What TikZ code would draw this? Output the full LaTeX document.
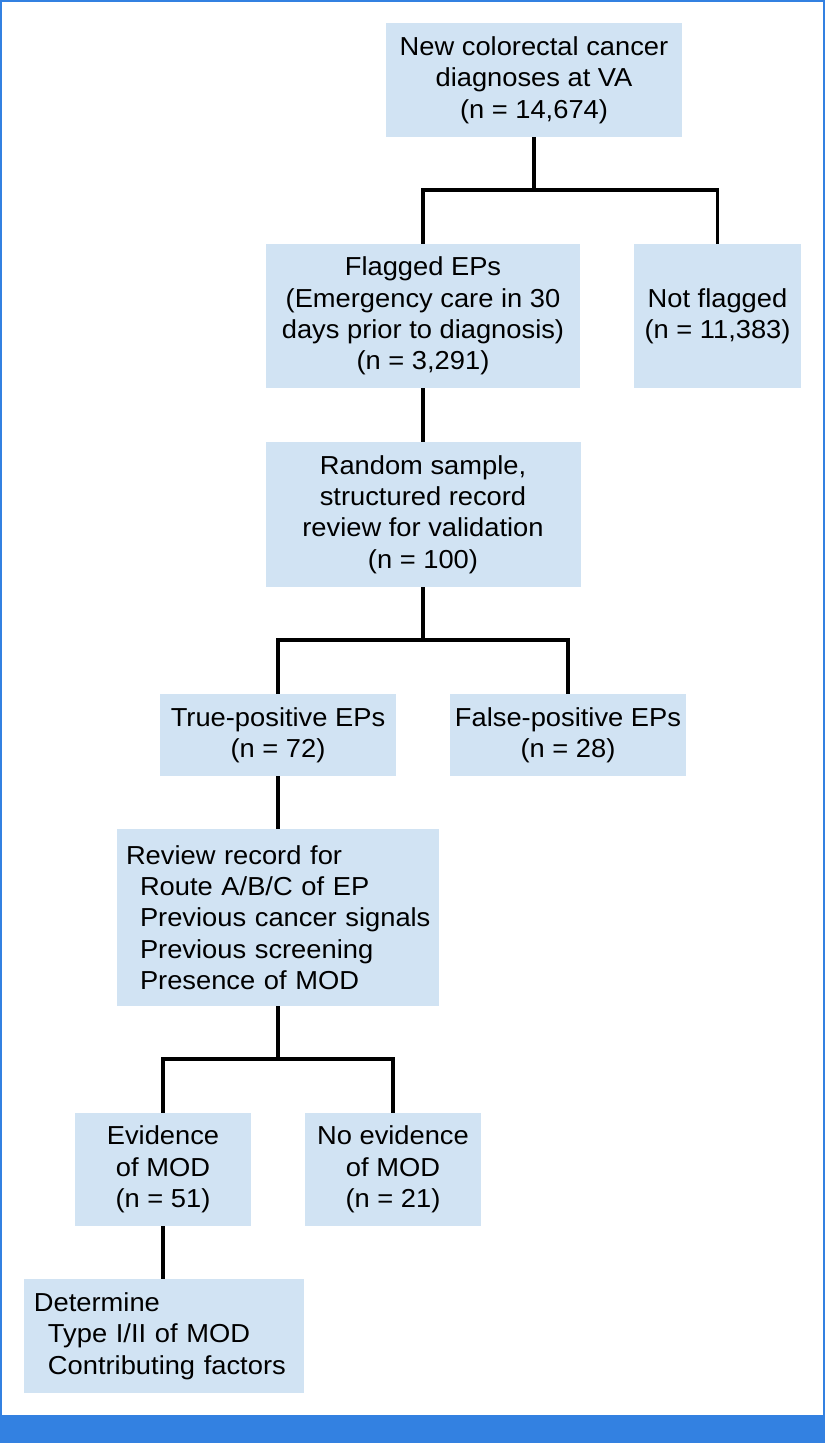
\documentclass[tikz,border=0pt]{standalone}
\usepackage{fontspec}
\setmainfont{Liberation Sans}[FakeStretch=1.05]
\definecolor{boxfill}{HTML}{D1E3F3}
\definecolor{frameblue}{HTML}{3381E1}
\newcommand{\ind}[1]{\mbox{\hspace*{14pt}#1}}
\begin{document}
\begin{tikzpicture}[x=1pt,y=-1pt,
  box/.style={fill=boxfill, draw=none, inner sep=0pt, align=center,
    font=\fontsize{26}{31.3}\selectfont},
  lbox/.style={box, align=left},
  conn/.style={line width=3.8pt, black, line join=miter}]
\useasboundingbox (0,0) rectangle (825,1443);
\fill[white] (0,0) rectangle (825,1443);
\draw[frameblue, line width=2pt] (1,1) rectangle (824,1416);
\fill[frameblue] (0,1415) rectangle (825,1443);

\node[box, minimum width=296pt, minimum height=114pt] (n1) at (534,80)
  {New colorectal cancer\\diagnoses at VA\\(n = 14,674)};
\node[box, minimum width=314pt, minimum height=144pt] (n2) at (423,316)
  {Flagged EPs\\(Emergency care in 30\\days prior to diagnosis)\\(n = 3,291)};
\node[box, minimum width=167pt, minimum height=144pt] (n3) at (717.5,316)
  {Not flagged\\(n = 11,383)};
\node[box, minimum width=315pt, minimum height=145pt] (n4) at (423,514.5)
  {Random sample,\\structured record\\review for validation\\(n = 100)};
\node[box, minimum width=236pt, minimum height=82pt] (n5) at (278,735)
  {True-positive EPs\\(n = 72)};
\node[box, minimum width=236pt, minimum height=82pt] (n6) at (568,735)
  {False-positive EPs\\(n = 28)};
\node[lbox, minimum width=322pt, minimum height=177pt, text width=304pt] (n7) at (278,917.5)
  {\mbox{Review record for}\\\ind{Route A/B/C of EP}\\\ind{Previous cancer signals}\\\ind{Previous screening}\\\ind{Presence of MOD}};
\node[box, minimum width=176pt, minimum height=113pt] (n8) at (163,1169.5)
  {Evidence\\of MOD\\(n = 51)};
\node[box, minimum width=176pt, minimum height=113pt] (n9) at (393,1169.5)
  {No evidence\\of MOD\\(n = 21)};
\node[lbox, minimum width=280pt, minimum height=114pt, text width=260pt] (n10) at (164,1336)
  {\mbox{Determine}\\\ind{Type I/II of MOD}\\\ind{Contributing factors}};

\coordinate (j1) at (534,190);
\coordinate (j2) at (423,640);
\coordinate (j3) at (278,1059);

\draw[conn] (n1.south) -- (j1);
\draw[conn] (j1) -| (n2.north);
\draw[conn] (j1) -| (n3.north);
\draw[conn] (n2.south) -- (n4.north);
\draw[conn] (n4.south) -- (j2);
\draw[conn] (j2) -| (n5.north);
\draw[conn] (j2) -| (n6.north);
\draw[conn] (n5.south) -- (n7.north);
\draw[conn] (n7.south) -- (j3);
\draw[conn] (j3) -| (n8.north);
\draw[conn] (j3) -| (n9.north);
\draw[conn] (n8.south) -- (n10.north -| n8.south);
\end{tikzpicture}
\end{document}
